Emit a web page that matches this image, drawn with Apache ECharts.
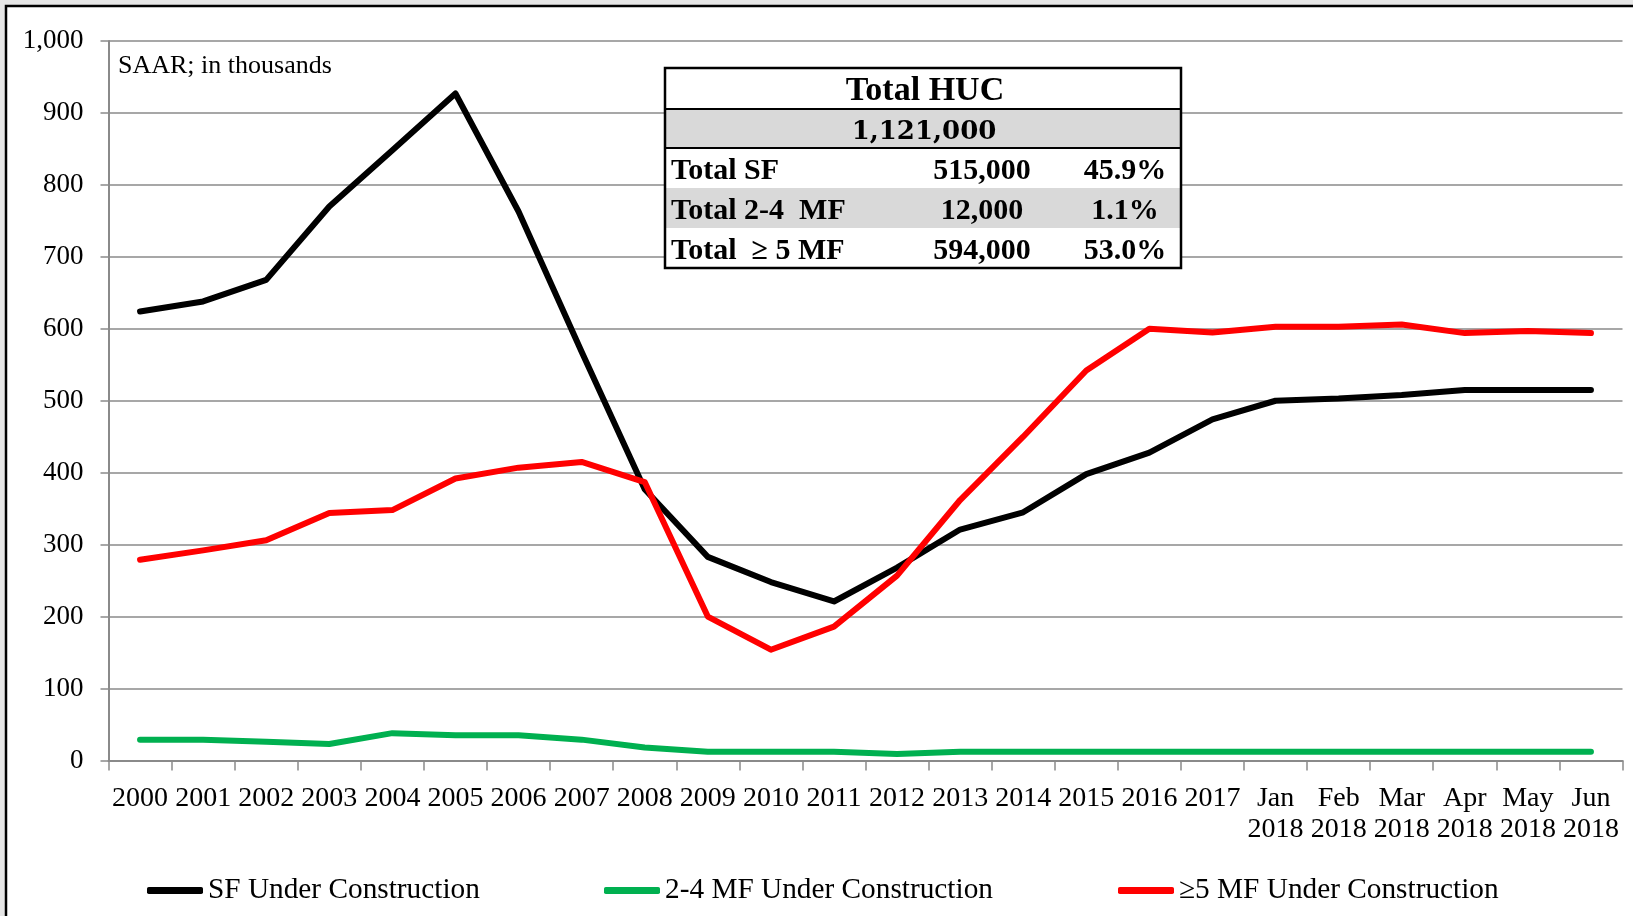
<!DOCTYPE html>
<html>
<head>
<meta charset="utf-8">
<title>HUC</title>
<script src="https://cdn.jsdelivr.net/npm/echarts@6/dist/echarts.min.js"></script>
<style>
    html, body { margin: 0; padding: 0; background: #e6e6e6; }
    #huc_chart { width: 1633px; height: 916px; }
</style>
</head>
<body>
<div id="huc_chart"></div>
<script>
// 横轴
var categories = ['2000', '2001', '2002', '2003', '2004', '2005', '2006', '2007', '2008', '2009',
    '2010', '2011', '2012', '2013', '2014', '2015', '2016', '2017',
    'Jan\n2018', 'Feb\n2018', 'Mar\n2018', 'Apr\n2018', 'May\n2018', 'Jun\n2018'];
// SAAR; in thousands
var sfData = [624, 638, 668, 770, 848, 927, 763, 568, 377, 283, 248, 221, 268, 321, 345, 398, 428, 474, 500, 503, 508, 515, 515, 515];
var mf24Data = [29, 29, 26, 23, 38, 35, 35, 29, 18, 12, 12, 12, 9, 12, 12, 12, 12, 12, 12, 12, 12, 12, 12, 12];
var mf5Data = [279, 292, 306, 344, 348, 392, 407, 415, 387, 200, 154, 186, 257, 362, 450, 542, 600, 595, 603, 603, 606, 594, 597, 594];
var seriesNames = ['SF Under Construction', '2-4 MF Under Construction', '\u22655 MF Under Construction'];
var yTicks = [0, 100, 200, 300, 400, 500, 600, 700, 800, 900, 1000];
// 表格
var tableTitle = 'Total HUC';
var tableTotal = '1,121,000';
var rowLabels = ['Total SF', 'Total 2-4  MF', 'Total  \u2265 5 MF'];
var rowValues = ['515,000', '12,000', '594,000'];
var rowPcts = ['45.9%', '1.1%', '53.0%'];

var serif = '"Liberation Serif", "Times New Roman", serif';

function buildTable() {
    var x0 = 665, w = 516;
    var rowTop = [148, 188, 228];
    var els = [];
    els.push({ type: 'rect', shape: { x: x0, y: 68, width: w, height: 200 }, style: { fill: '#fff' } });
    els.push({ type: 'rect', shape: { x: x0, y: 109, width: w, height: 39 }, style: { fill: '#d9d9d9' } });
    els.push({ type: 'rect', shape: { x: x0, y: 188, width: w, height: 40 }, style: { fill: '#d9d9d9' } });
    els.push({ type: 'line', shape: { x1: x0, y1: 109, x2: x0 + w, y2: 109 }, style: { stroke: '#000', lineWidth: 2 } });
    els.push({ type: 'line', shape: { x1: x0, y1: 148, x2: x0 + w, y2: 148 }, style: { stroke: '#000', lineWidth: 2 } });
    els.push({ type: 'rect', shape: { x: x0, y: 68, width: w, height: 200 }, style: { fill: 'none', stroke: '#000', lineWidth: 2.5 } });
    els.push({
        type: 'text', x: 925, y: 91,
        style: { text: tableTitle, font: 'bold 34px ' + serif, fill: '#000', textAlign: 'center', textVerticalAlign: 'middle' }
    });
    els.push({
        type: 'text', x: 924, y: 132,
        style: { text: tableTotal, font: 'bold 26px "DejaVu Serif", serif', fill: '#000', textAlign: 'center', textVerticalAlign: 'middle' }
    });
    for (var i = 0; i < rowLabels.length; i++) {
        var cy = rowTop[i] + 23;
        els.push({ type: 'text', x: 671, y: cy,
            style: { text: rowLabels[i], font: 'bold 30px ' + serif, fill: '#000', textAlign: 'left', textVerticalAlign: 'middle' } });
        els.push({ type: 'text', x: 982, y: cy,
            style: { text: rowValues[i], font: 'bold 30px ' + serif, fill: '#000', textAlign: 'center', textVerticalAlign: 'middle' } });
        els.push({ type: 'text', x: 1125, y: cy,
            style: { text: rowPcts[i], font: 'bold 30px ' + serif, fill: '#000', textAlign: 'center', textVerticalAlign: 'middle' } });
    }
    // 盖住网格线
    for (var k = 0; k < els.length; k++) {
        els[k].z = 100 + k;
        els[k].silent = true;
    }
    return els;
}

function legendAt(name, left) {
    return {
        data: [name],
        left: left,
        top: 871,
        icon: 'roundRect',
        itemWidth: 56,
        itemHeight: 7,
        textStyle: { fontFamily: serif, fontSize: 29.3, color: '#000' },
        selectedMode: false
    };
}

var myChart = echarts.init(document.getElementById('huc_chart'));
var colors = ['#000000', '#00b050', '#ff0000'];
var option = {
    animation: false,
    backgroundColor: '#e6e6e6',
    color: colors,
    textStyle: { fontFamily: serif },
    grid: {
        left: 108.5,
        right: 10.5,
        top: 41,
        bottom: 155.5
    },
    legend: [
        legendAt(seriesNames[0], 142),
        legendAt(seriesNames[1], 599),
        legendAt(seriesNames[2], 1113)
    ],
    graphic: [
        {
            type: 'rect', z: -10, silent: true,
            shape: { x: 6, y: 6, width: 1700, height: 1000 },
            style: { fill: '#fff', stroke: '#000', lineWidth: 2.5 }
        },
        {
            type: 'text', left: 118, top: 53, silent: true,
            style: { text: 'SAAR; in thousands', font: '26px ' + serif, fill: '#000', letterSpacing: 0.7 }
        }
    ].concat(buildTable()),
    xAxis: {
        type: 'category',
        data: categories,
        boundaryGap: true,
        axisLine: { lineStyle: { color: '#8a8a8a', width: 2 } },
        axisTick: { show: true, length: 10, lineStyle: { color: '#8a8a8a', width: 1.5 } },
        axisLabel: {
            interval: 0,//全部显示
            margin: 23,
            color: '#000',
            fontFamily: serif,
            fontSize: 28,
            lineHeight: 31,
            verticalAlign: 'top'
        },
        splitLine: { show: false }
    },
    yAxis: {
        type: 'value',
        min: yTicks[0],
        max: yTicks[yTicks.length - 1],
        interval: 100,
        axisLine: { show: true, lineStyle: { color: '#8a8a8a', width: 2 } },
        axisTick: { show: true, length: 8, lineStyle: { color: '#8a8a8a', width: 1.5 } },
        axisLabel: {
            margin: 25,
            color: '#000',
            fontFamily: serif,
            fontSize: 27,
            padding: [5, 0, 0, 0],
            formatter: function (v) { return v.toLocaleString('en-US'); }
        },
        splitLine: { show: true, lineStyle: { color: '#8a8a8a', width: 1.5 } }//网格线
    },
    series: [{
        name: seriesNames[0],
        type: 'line',
        data: sfData,
        symbol: 'none',
        lineStyle: { width: 6, color: colors[0], cap: 'round', join: 'round' }
    }, {
        name: seriesNames[1],
        type: 'line',
        data: mf24Data,
        symbol: 'none',
        lineStyle: { width: 6, color: colors[1], cap: 'round', join: 'round' }
    }, {
        name: seriesNames[2],
        type: 'line',
        data: mf5Data,
        symbol: 'none',
        lineStyle: { width: 6, color: colors[2], cap: 'round', join: 'round' }
    }]
};
myChart.setOption(option);
</script>
</body>
</html>
